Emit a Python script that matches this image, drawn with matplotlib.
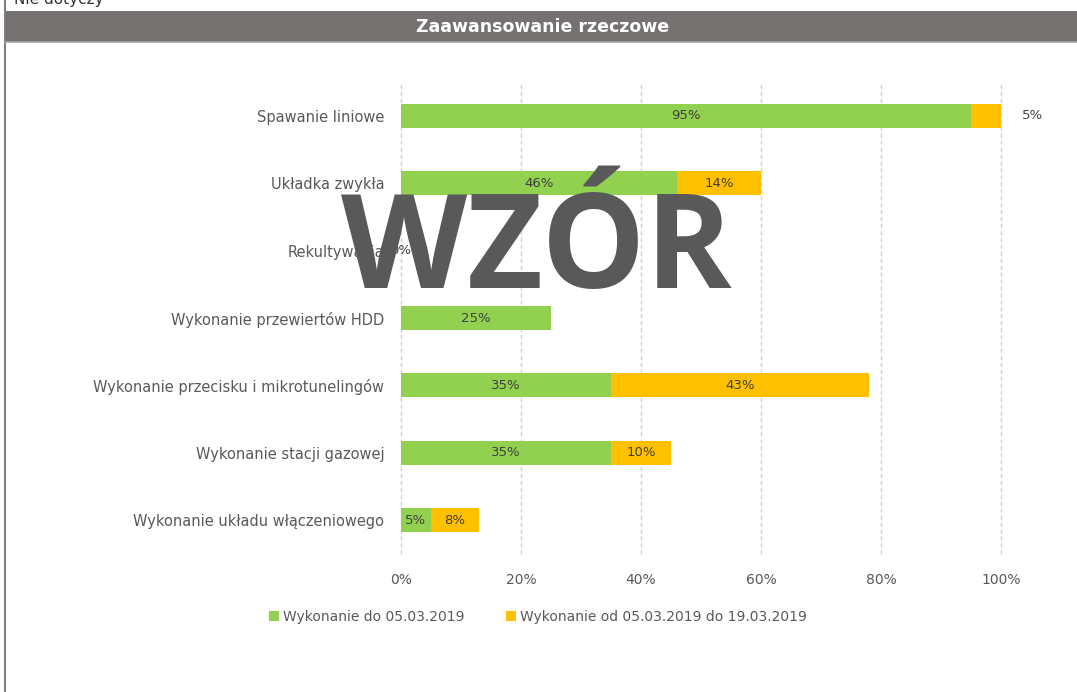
import matplotlib
matplotlib.use("Agg")
import matplotlib.pyplot as plt
from matplotlib.patches import Rectangle
from matplotlib.lines import Line2D

categories = ["Spawanie liniowe", "Układka zwykła", "Rekultywacja",
              "Wykonanie przewiertów HDD", "Wykonanie przecisku i mikrotunelingów",
              "Wykonanie stacji gazowej", "Wykonanie układu włączeniowego"]
done_before = [95, 46, 0, 25, 35, 35, 5]
done_period = [5, 14, 0, 0, 43, 10, 8]
series_names = ["Wykonanie do 05.03.2019", "Wykonanie od 05.03.2019 do 19.03.2019"]
xticks = [0, 20, 40, 60, 80, 100]

GREEN = "#92D050"
ORANGE = "#FFC000"
TXT = "#595959"

W, H = 1077, 692
fig = plt.figure(figsize=(W / 100, H / 100), dpi=100)
fig.patch.set_facecolor("white")

def fx(px): return px / W
def fy(py): return 1 - py / H

# left border line
fig.add_artist(Line2D([fx(5), fx(5)], [0, 1], color="#7F7F7F", lw=1.5))
# title bar
fig.add_artist(Rectangle((fx(5), fy(42)), 1 - fx(5), (42 - 11) / H,
                         facecolor="#757171", edgecolor="none"))
fig.add_artist(Line2D([fx(5), 1], [fy(42), fy(42)], color="#A6A6A6", lw=1.2))
fig.text(fx(543), fy(27), "Zaawansowanie rzeczowe", color="white",
         fontsize=12.5, fontweight="bold", ha="center", va="center")
fig.text(fx(14), fy(4), "Nie dotyczy", color="#333333", fontsize=11,
         ha="left", va="baseline")

ax = fig.add_axes([fx(401), fy(553.7), fx(1001) - fx(401), (553.7 - 82.3) / H])
y = list(range(len(categories)))
bh = 0.36
b1 = ax.barh(y, done_before, height=bh, color=GREEN, label=series_names[0], zorder=2)
b2 = ax.barh(y, done_period, left=done_before, height=bh, color=ORANGE,
             label=series_names[1], zorder=2)
ax.set_ylim(len(categories) - 0.5, -0.5)
ax.set_xlim(0, 100)
ax.set_yticks(y)
ax.set_yticklabels(categories, fontsize=10.5, color=TXT)
ax.set_xticks(xticks)
ax.set_xticklabels([f"{t}%" for t in xticks], fontsize=10, color=TXT)
ax.tick_params(axis="both", length=0)
ax.tick_params(axis="y", pad=12)
ax.tick_params(axis="x", pad=14)
for s in ax.spines.values():
    s.set_visible(False)
for t in xticks:
    ax.axvline(t, color="#D0D0D0", linestyle=(0, (3, 2)), lw=1, zorder=0, clip_on=False)

for i in y:
    g = done_before[i]
    o = done_period[i]
    ax.text(g / 2, i, f"{g}%", ha="center", va="center", fontsize=9.5, color="#404040", zorder=3)
    if o > 0:
        if o >= 7:
            ax.text(g + o / 2, i, f"{o}%", ha="center", va="center", fontsize=9.5,
                    color="#404040", zorder=3)
        else:
            ax.annotate(f"{o}%", (g + o, i), xytext=(23, 0), textcoords="offset points",
                        ha="center", va="center", fontsize=9.5, color="#404040",
                        annotation_clip=False)

fig.legend(handles=[b1, b2], loc="center", bbox_to_anchor=(fx(538), fy(617)),
           ncol=2, frameon=False, fontsize=10, handlelength=0.7, handleheight=0.7,
           handletextpad=0.3, columnspacing=3.0, labelcolor=TXT)

fig.text(fx(536), fy(288), "WZÓR", color="#595959", fontsize=94,
         fontweight="bold", family="Open Sans", ha="center", va="baseline", zorder=10)

fig.savefig("out.png", dpi=100)
